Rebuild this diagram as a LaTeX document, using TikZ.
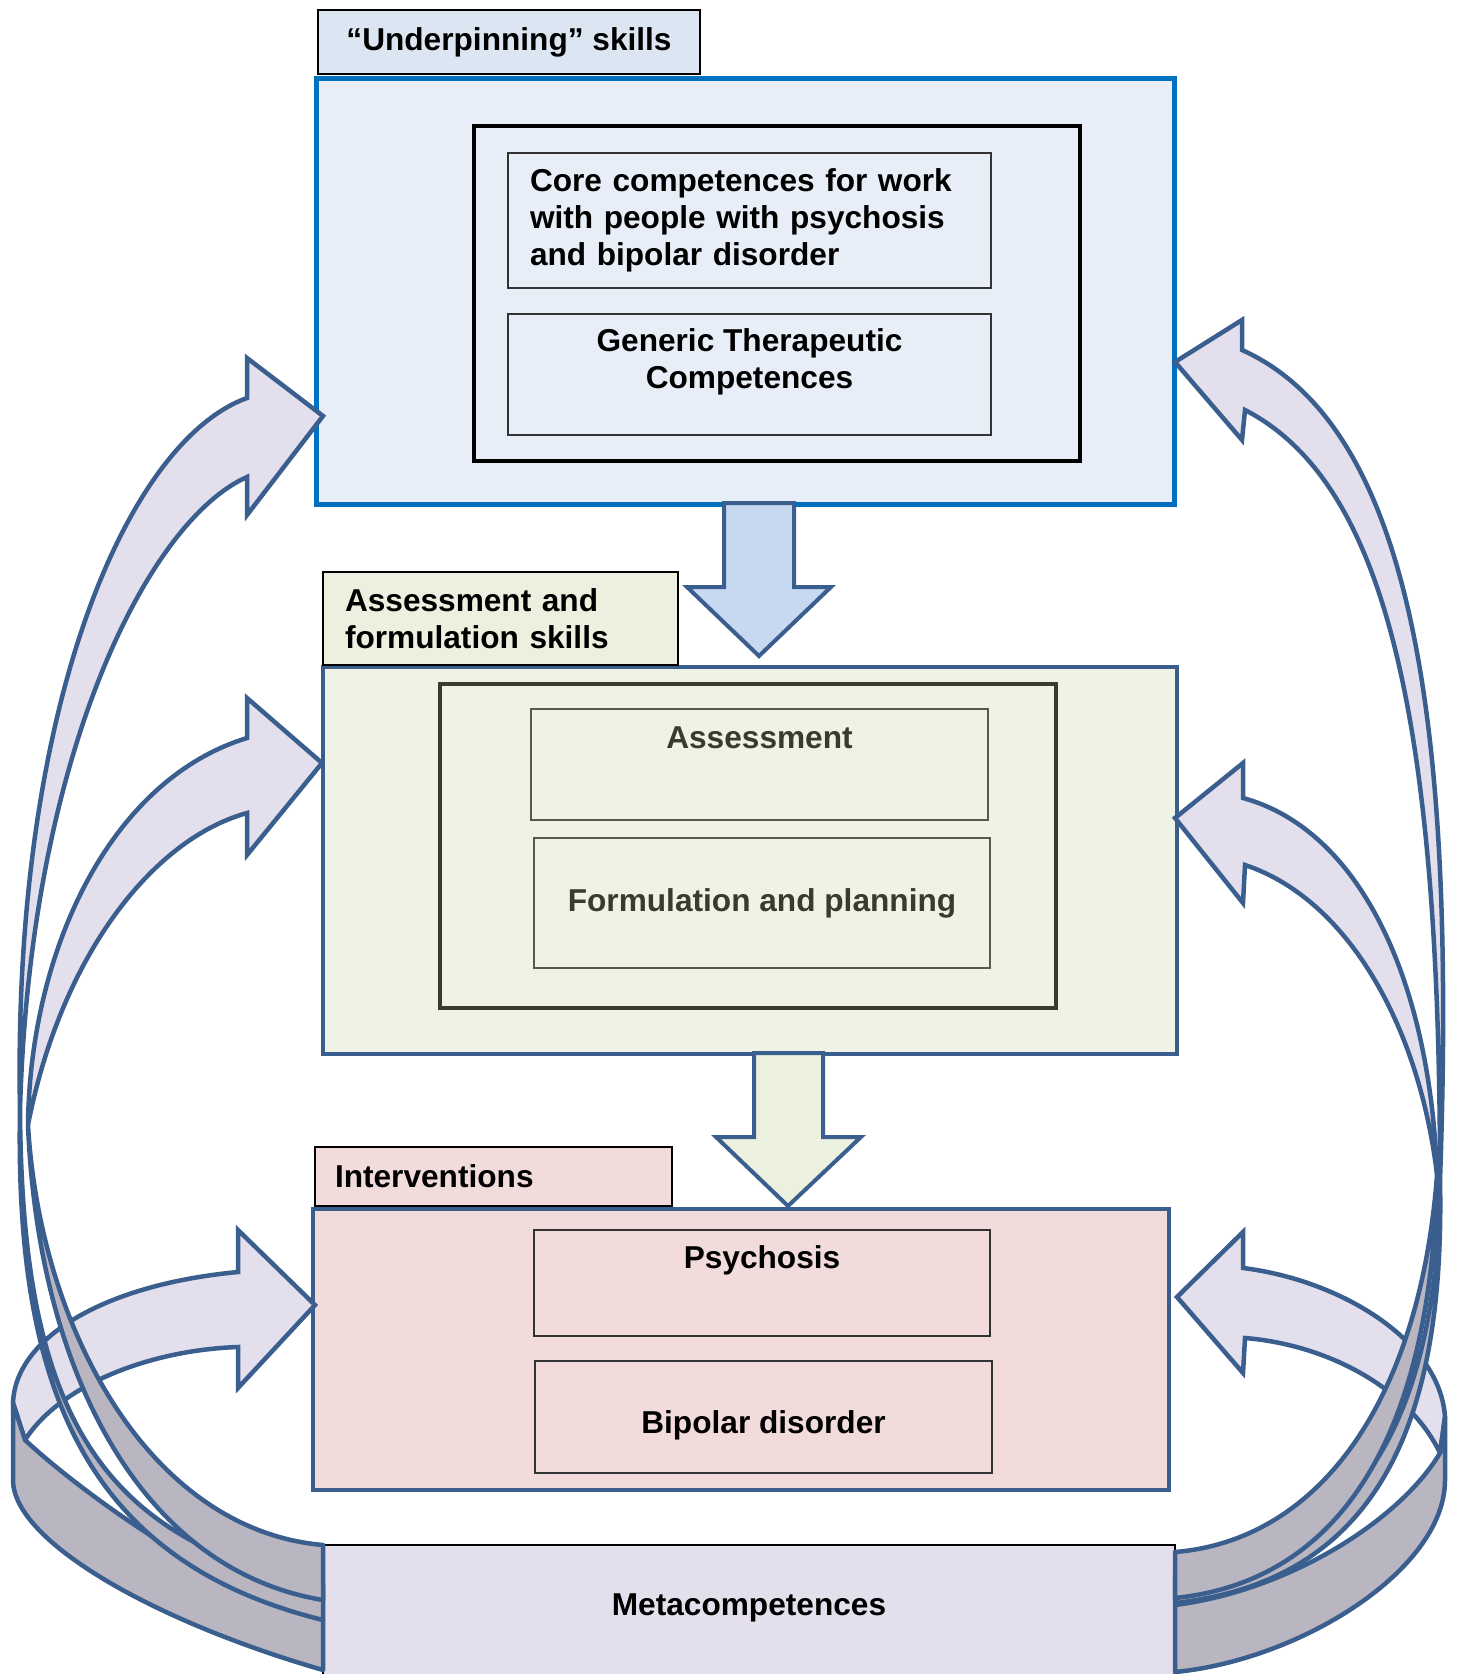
\documentclass[tikz,border=0pt]{standalone}
\usepackage{fontspec}
\setmainfont{Liberation Sans}
\definecolor{bandline}{HTML}{3A5F8F}
\definecolor{bandfront}{HTML}{E4DFEC}
\definecolor{bandback}{HTML}{B9B5C1}
\definecolor{topblue}{HTML}{0070C0}
\definecolor{topfill}{HTML}{E8EEF7}
\definecolor{toplabel}{HTML}{DCE6F2}
\definecolor{toparrow}{HTML}{C6D9F1}
\definecolor{midfill}{HTML}{EEF3E5}
\definecolor{midlabel}{HTML}{EBF1DE}
\definecolor{midtext}{HTML}{383C2C}
\definecolor{lowfill}{HTML}{F2DCDB}
\definecolor{metafill}{HTML}{E4DFEC}

\begin{document}
\begin{tikzpicture}[x=0.2mm, y=-0.2mm,
		every node/.style={font=\bfseries\fontsize{18}{21}\selectfont},
		labelbox/.style={rectangle, draw=black, line width=0.4mm, inner ysep=1mm},
		outerbox/.style={rectangle, draw=bandline, line width=0.8mm},
		innerframe/.style={rectangle, draw=black, line width=0.8mm},
		subbox/.style={rectangle, draw=black!80, line width=0.35mm},
		downarrow/.style={draw=bandline, line width=0.8mm, line join=miter},
		frontband/.style={fill=bandfront, draw=bandline, line width=0.9mm, line join=miter},
		backband/.style={fill=bandback, draw=bandline, line width=0.9mm, line join=round}
		]
		\useasboundingbox (0,0) rectangle (1462,1674);

		% underpinning skills
		\node [outerbox, draw=topblue, line width=1mm, fill=topfill, minimum width=171.4mm, minimum height=85mm] (underbox) at (745.5,291.5) {};
		\node [labelbox, fill=toplabel, minimum width=76.4mm, minimum height=12.8mm] (underlbl) at (509,42) {“Underpinning” skills};
		\node [innerframe, minimum width=121.2mm, minimum height=67mm] (underframe) at (777,293.5) {};
		\node [subbox, text width=87.8mm, inner xsep=4.4mm, minimum height=27mm, align=left] (core) at (749.5,220.5) {Core competences for work\\with people with psychosis\\and bipolar disorder};
		\node [subbox, minimum width=96.6mm, minimum height=24.2mm] (generic) at (749.5,374.5) {};
		\node [align=center] (generictxt) at ([yshift=2.6mm]generic.center) {Generic Therapeutic\\Competences};

		% assessment and formulation
		\node [outerbox, fill=midfill, minimum width=170.8mm, minimum height=77.4mm] (assessbox) at (750,860.5) {};
		\node [labelbox, fill=midlabel, text width=62.2mm, inner xsep=4.4mm, minimum height=18.6mm, align=left] (assesslbl) at (500.5,618.5) {Assessment and\\formulation skills};
		\node [innerframe, draw=midtext, minimum width=123.2mm, minimum height=64.8mm] (assessframe) at (748,846) {};
		\node [subbox, draw=midtext!85, minimum width=91.4mm, minimum height=22.2mm] (assess) at (759.5,764.5) {};
		\node [text=midtext] (assesstxt) at ([yshift=5.3mm]assess.center) {Assessment};
		\node [subbox, draw=midtext!85, text=midtext, minimum width=91.2mm, minimum height=26mm] (formul) at (762,903) {Formulation and planning};

		% interventions
		\node [outerbox, fill=lowfill, minimum width=171.2mm, minimum height=56.2mm] (interbox) at (741,1349.5) {};
		\node [labelbox, fill=lowfill, text width=63.4mm, inner xsep=4mm, minimum height=11.8mm, align=left] (interlbl) at (493.5,1176.5) {Interventions};
		\node [subbox, minimum width=91.2mm, minimum height=21.2mm] (psych) at (762,1283) {};
		\node (psychtxt) at ([yshift=4.6mm]psych.center) {Psychosis};
		\node [subbox, minimum width=91.4mm, minimum height=22.4mm] (bipolar) at (763.5,1417) {};
		\node (bipolartxt) at ([yshift=-1.6mm]bipolar.center) {Bipolar disorder};

		% metacompetences
		\node [rectangle, draw=black, line width=0.3mm, fill=metafill, minimum width=170.4mm, minimum height=31mm] (meta) at (749,1622.5) {};
		\node (metatxt) at ([yshift=2.9mm]meta.center) {Metacompetences};

		% block arrows between the levels
		\draw [downarrow, fill=toparrow] (724,503) -- (794,503) -- (794,587) -- (831,587) -- (759,656) -- (687,587) -- (724,587) -- cycle;
		\draw [downarrow, fill=midlabel] (754,1053) -- (823,1053) -- (823,1137) -- (861,1137) -- (788,1206) -- (716,1137) -- (754,1137) -- cycle;

		% ribbons to interventions (they pass behind the others)
		\draw [frontband] (13,1403) .. controls (15,1340) and (100,1285) .. (238,1272) -- (238,1230) -- (315,1305) -- (238,1388) -- (238,1347) .. controls (150,1350) and (60,1385) .. (25,1440) -- cycle;
		\draw [backband] (13,1403) -- (13,1480) .. controls (13,1540) and (150,1620) .. (323,1670) -- (323,1620) .. controls (220,1590) and (90,1500) .. (25,1440) -- cycle;
		\draw [frontband] (1445,1417) .. controls (1440,1340) and (1340,1280) .. (1243,1268) -- (1243,1232) -- (1177,1297) -- (1243,1373) -- (1245,1338) .. controls (1330,1345) and (1410,1390) .. (1440,1453) -- cycle;
		\draw [backband] (1445,1417) -- (1445,1480) .. controls (1445,1570) and (1300,1660) .. (1175,1672) -- (1175,1605) .. controls (1290,1590) and (1400,1520) .. (1440,1453) -- cycle;

		% back faces of the long ribbons
		\draw [backband] (20,1110) .. controls (15,1380) and (80,1560) .. (323,1620) -- (323,1585) .. controls (90,1540) and (22,1400) .. (20,1110) -- cycle;
		\draw [backband] (28,1125) .. controls (40,1330) and (150,1530) .. (323,1545) -- (323,1600) .. controls (140,1570) and (38,1370) .. (28,1125) -- cycle;
		\draw [backband] (1440,1180) .. controls (1445,1420) and (1380,1580) .. (1175,1603) -- (1175,1575) .. controls (1370,1560) and (1438,1400) .. (1440,1180) -- cycle;
		\draw [backband] (1437,1175) .. controls (1420,1400) and (1320,1540) .. (1175,1552) -- (1175,1598) .. controls (1350,1580) and (1432,1420) .. (1437,1175) -- cycle;

		% front faces of the long ribbons
		\draw [frontband] (20,1110) .. controls (12,700) and (130,440) .. (247,398) -- (247,358) -- (323,416) -- (247,515) -- (247,477) .. controls (150,520) and (30,750) .. (20,1110) -- cycle;
		\draw [frontband] (28,1125) .. controls (30,950) and (110,780) .. (247,738) -- (247,698) -- (322,763) -- (247,855) -- (247,813) .. controls (150,840) and (60,960) .. (28,1125) -- cycle;
		\draw [frontband] (1440,1180) .. controls (1455,750) and (1420,430) .. (1242,350) -- (1242,320) -- (1175,362) -- (1242,440) -- (1245,410) .. controls (1380,480) and (1440,700) .. (1440,1180) -- cycle;
		\draw [frontband] (1437,1175) .. controls (1430,980) and (1360,830) .. (1243,798) -- (1243,763) -- (1175,818) -- (1243,903) -- (1245,865) .. controls (1350,900) and (1420,1030) .. (1437,1175) -- cycle;
	\end{tikzpicture}
\end{document}
